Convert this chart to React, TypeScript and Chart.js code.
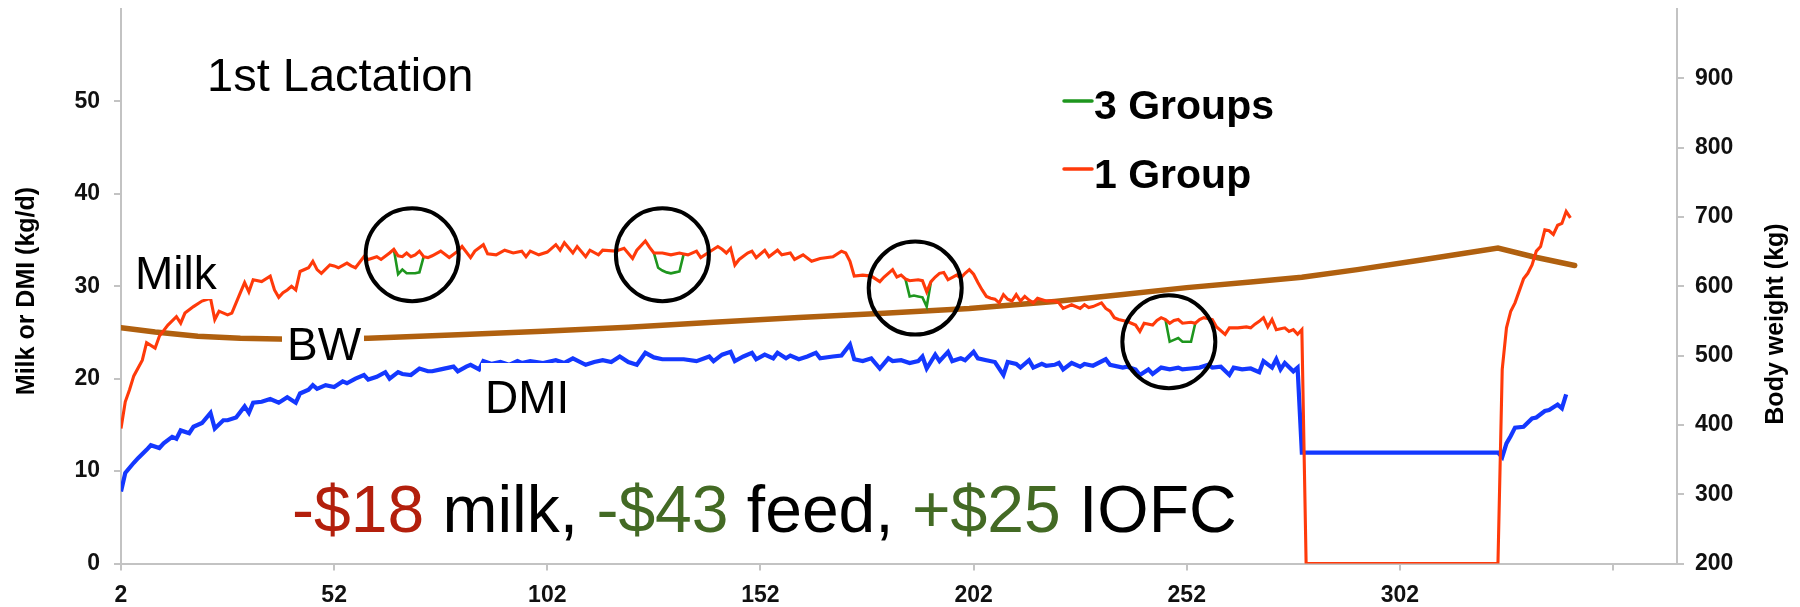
import React, { useEffect, useRef } from 'react';
import { Chart, registerables } from 'chart.js';

Chart.register(...registerables);

// ---------- axes ----------
const X_TICKS = [2, 52, 102, 152, 202, 252, 302, 352];
const X_TICK_LABELS = ['2', '52', '102', '152', '202', '252', '302', ''];
const LEFT_TICKS = [0, 10, 20, 30, 40, 50];
const RIGHT_TICKS = [200, 300, 400, 500, 600, 700, 800, 900];
const LEFT_TITLE = 'Milk or DMI (kg/d)';
const RIGHT_TITLE = 'Body weight (kg)';

// ---------- Milk, 1 Group (kg/d) ----------
const MILK_DAYS = [
  2, 3, 4, 5, 7, 8, 10, 11, 13, 15, 16, 17, 19, 21, 23, 24, 25, 27, 28, 30,
  31, 32, 33, 35, 37, 38, 39, 40, 41, 42, 43, 44, 46, 47, 48, 49, 51, 52, 53, 55,
  56, 57, 59, 60, 62, 63, 65, 66, 67, 68, 69, 70, 71, 72, 73, 74, 75, 77, 79, 81,
  82, 84, 85, 87, 88, 90, 92, 94, 96, 97, 98, 100, 102, 104, 105, 106, 108, 109, 111, 112,
  114, 115, 118, 120, 122, 123, 125, 126, 127, 129, 131, 133, 134, 135, 137, 138, 140, 142, 143, 144,
  145, 146, 147, 149, 150, 151, 153, 154, 156, 157, 159, 160, 162, 164, 166, 169, 171, 172, 173, 174,
  176, 178, 180, 181, 182, 183, 184, 185, 186, 187, 189, 190, 191, 192, 193, 194, 195, 196, 198, 199,
  200, 201, 202, 203, 204, 205, 206, 207, 208, 209, 210, 211, 212, 213, 214, 215, 216, 217, 219, 221,
  222, 223, 225, 227, 228, 229, 230, 232, 233, 234, 235, 236, 238, 239, 240, 241, 242, 244, 245, 246,
  247, 248, 249, 250, 251, 253, 254, 255, 256, 258, 259, 261, 262, 264, 266, 267, 268, 269, 270, 271,
  272, 273, 275, 276, 277, 278, 279, 280, 325, 326, 327, 328, 329, 330, 331, 332, 333, 334, 335, 336,
  337, 338, 339, 340, 341, 342,
];
const MILK_ONE_GROUP = [
  14.6, 17.5, 18.8, 20.3, 22.0, 23.9, 23.3, 24.6, 25.8, 26.7, 26.0, 27.1, 27.8, 28.4, 28.7, 26.4, 27.3, 26.9, 27.1, 29.3,
  30.4, 29.4, 30.7, 30.5, 31.1, 29.6, 28.8, 29.3, 29.6, 30.0, 29.6, 31.6, 32.0, 32.7, 31.8, 31.4, 32.3, 32.2, 32.0, 32.5,
  32.2, 32.0, 33.2, 32.9, 33.2, 32.9, 33.6, 34.0, 33.3, 33.2, 33.6, 33.2, 33.4, 33.8, 33.2, 33.1, 33.3, 33.8, 33.1, 33.8,
  34.3, 33.1, 33.8, 34.5, 33.5, 33.4, 33.9, 33.6, 33.8, 33.2, 33.8, 33.4, 33.7, 34.5, 33.9, 34.7, 33.6, 34.3, 33.2, 33.9,
  33.4, 33.9, 33.8, 34.1, 33.0, 33.9, 34.9, 34.2, 33.6, 33.6, 33.4, 33.6, 33.5, 33.4, 33.8, 33.1, 33.7, 34.3, 34.0, 33.6,
  34.1, 32.3, 32.9, 33.6, 33.8, 33.1, 33.9, 33.2, 33.9, 33.4, 33.6, 32.9, 33.4, 32.7, 33.0, 33.2, 33.8, 33.6, 32.7, 31.1,
  31.2, 31.1, 30.5, 31.0, 31.4, 31.8, 31.0, 31.2, 30.8, 30.6, 30.7, 30.6, 29.4, 30.5, 31.0, 31.4, 31.5, 30.7, 31.2, 30.9,
  31.4, 31.8, 31.3, 30.4, 29.6, 28.9, 28.7, 28.6, 28.2, 29.1, 28.6, 28.4, 29.1, 28.4, 28.9, 28.5, 28.2, 28.7, 28.4, 28.4,
  28.2, 27.6, 28.0, 27.6, 28.0, 27.7, 27.8, 28.2, 27.6, 27.3, 26.6, 26.4, 26.2, 26.0, 25.8, 25.1, 26.0, 25.8, 26.3, 26.6,
  26.4, 26.0, 26.3, 26.4, 26.0, 26.1, 26.0, 26.4, 26.6, 26.4, 25.6, 24.8, 25.5, 25.5, 25.6, 25.5, 25.9, 26.2, 26.6, 25.6,
  26.4, 25.3, 25.5, 25.1, 25.3, 24.8, 25.3, 0, 0, 21.0, 25.5, 27.3, 28.2, 29.5, 30.8, 31.4, 32.3, 33.8, 34.3, 36.1,
  36.0, 35.6, 36.6, 36.8, 38.1, 37.4,
];

// ---------- Milk, 3 Groups (only where it differs; null = gap) ----------
const MILK3_DAYS = [
  66, 67, 68, 69, 70, 71, 72, 73, 74,
  127, 128, 129, 130, 131, 132, 133, 134, 135,
  186, 187, 188, 189, 190, 191, 192, 193,
  247, 248, 249, 250, 251, 252, 253, 254,
];
const MILK_THREE_GROUPS = [
  34.0, 31.3, 31.8, 31.4, 31.4, 31.4, 31.5, 33.2, null,
  33.6, 32.0, 31.7, 31.5, 31.4, 31.5, 31.6, 33.5, null,
  30.8, 28.9, 29.0, 28.9, 28.8, 27.8, 30.5, null,
  26.4, 24.0, 24.2, 24.4, 24.0, 24.0, 24.0, 26.0,
];

// ---------- DMI (kg/d) ----------
const DMI_DAYS = [
  2, 3, 5, 6, 8, 9, 11, 12, 14, 15, 16, 18, 19, 21, 23, 24, 26, 27, 29, 31,
  32, 33, 35, 37, 39, 40, 41, 43, 44, 46, 47, 48, 50, 52, 54, 55, 57, 59, 60, 62,
  64, 65, 67, 68, 70, 72, 74, 75, 77, 80, 81, 83, 84, 86, 87, 89, 91, 93, 95, 96,
  98, 101, 104, 106, 108, 111, 113, 115, 117, 119, 121, 123, 125, 127, 129, 131, 134, 137, 140, 141,
  143, 145, 146, 148, 150, 151, 153, 155, 156, 158, 159, 161, 163, 165, 166, 169, 171, 173, 174, 176,
  178, 180, 182, 183, 185, 187, 189, 190, 191, 193, 194, 196, 197, 199, 200, 202, 203, 205, 207, 209,
  210, 212, 213, 215, 216, 218, 219, 221, 222, 223, 225, 227, 228, 230, 233, 234, 237, 238, 240, 241,
  243, 244, 246, 248, 250, 251, 253, 255, 257, 258, 260, 262, 263, 265, 267, 269, 270, 272, 273, 274,
  275, 277, 278, 279, 325, 326, 327, 328, 329, 331, 333, 334, 336, 337, 339, 340, 341,
];
const DMI_VALUES = [
  7.8, 9.8, 10.9, 11.4, 12.3, 12.8, 12.5, 13.0, 13.7, 13.5, 14.4, 14.1, 14.8, 15.2, 16.3, 14.6, 15.5, 15.5, 15.8, 17.0,
  16.3, 17.4, 17.5, 17.8, 17.4, 17.7, 18.0, 17.4, 18.4, 18.8, 19.3, 18.9, 19.3, 19.1, 19.7, 19.5, 20.0, 20.4, 19.9, 20.2,
  20.7, 20.0, 20.7, 20.5, 20.4, 21.1, 20.8, 20.8, 21.0, 21.3, 20.8, 21.3, 21.5, 21.0, 21.9, 21.6, 21.8, 21.5, 21.9, 21.7,
  21.9, 21.7, 22.0, 21.7, 22.2, 21.5, 21.8, 22.0, 21.8, 22.4, 21.8, 21.5, 22.8, 22.3, 22.1, 22.1, 22.1, 21.9, 22.4, 21.9,
  22.6, 22.9, 21.9, 22.4, 22.8, 22.1, 22.6, 22.2, 22.8, 22.2, 22.5, 22.1, 22.4, 22.8, 22.2, 22.4, 22.5, 23.7, 22.1, 21.9,
  22.2, 21.1, 22.2, 21.9, 22.0, 21.7, 21.9, 22.4, 21.1, 22.6, 21.9, 22.9, 21.9, 22.2, 22.0, 22.9, 22.2, 22.0, 21.8, 20.4,
  21.8, 21.6, 21.2, 22.0, 21.2, 21.6, 21.4, 21.5, 21.7, 21.0, 21.7, 21.3, 21.6, 21.4, 22.1, 21.5, 21.2, 21.3, 21.0, 20.4,
  21.0, 20.5, 21.2, 21.0, 21.2, 21.0, 21.1, 21.2, 21.5, 21.2, 21.3, 20.4, 21.2, 21.0, 21.1, 20.7, 21.9, 21.2, 22.1, 21.0,
  21.7, 20.8, 21.2, 12.0, 12.0, 11.5, 13.0, 13.8, 14.7, 14.8, 15.7, 15.8, 16.5, 16.6, 17.2, 16.8, 18.3,
];

// ---------- Body weight (kg) ----------
const BW_DAYS = [2, 10, 20, 30, 45, 60, 81, 101, 121, 141, 161, 181, 201, 221, 237, 252, 267, 279, 292, 307, 325, 333, 343];
const BW_VALUES = [540, 534, 528, 525, 523, 525, 530, 535, 541, 548, 555, 561, 568, 578, 588, 598, 606, 613, 624, 638, 655, 643, 630];

// ---------- highlighted regions (day, kg/d) ----------
const CIRCLE_DAYS = [70.3, 129.0, 188.3, 247.8];
const CIRCLE_VALUES = [33.4, 33.4, 29.8, 24.0];

const FONT = "'Liberation Sans', Arial, Helvetica, sans-serif";
const AXIS_COLOR = '#c3c3c3';
const RED = '#ff3a0a';
const GREEN = '#1e961e';
const BLUE = '#1438ff';
const BROWN = '#b0600f';
const DARK_RED = '#b31f0c';
const DARK_GREEN = '#436a24';

const overlayPlugin = {
  id: 'overlay',
  afterDraw(chart: any) {
    const ctx = chart.ctx as CanvasRenderingContext2D;
    const xs = chart.scales.x;
    const ys = chart.scales.y;
    ctx.save();

    // series labels on white patches
    const labels = [
      { text: 'Milk', x: 135, y: 289, box: [130, 245, 88, 54] },
      { text: 'BW', x: 287, y: 360, box: [282, 318, 82, 50] },
      { text: 'DMI', x: 485, y: 413, box: [481, 363, 88, 57] },
    ];
    ctx.textBaseline = 'alphabetic';
    ctx.textAlign = 'left';
    for (const l of labels) {
      ctx.fillStyle = '#ffffff';
      ctx.fillRect(l.box[0], l.box[1], l.box[2], l.box[3]);
      ctx.fillStyle = '#000000';
      ctx.font = `46px ${FONT}`;
      ctx.fillText(l.text, l.x, l.y);
    }

    // circles
    ctx.strokeStyle = '#000000';
    ctx.lineWidth = 4;
    CIRCLE_DAYS.forEach((d, i) => {
      const cx = xs.getPixelForValue(d);
      const cy = ys.getPixelForValue(CIRCLE_VALUES[i]);
      ctx.beginPath();
      ctx.arc(cx, cy, 46.5, 0, Math.PI * 2);
      ctx.stroke();
    });

    // title
    ctx.fillStyle = '#000000';
    ctx.font = `47px ${FONT}`;
    ctx.fillText('1st Lactation', 207, 91);

    // legend
    ctx.lineCap = 'round';
    ctx.lineWidth = 3.5;
    ctx.strokeStyle = GREEN;
    ctx.beginPath();
    ctx.moveTo(1064, 101);
    ctx.lineTo(1092, 101);
    ctx.stroke();
    ctx.strokeStyle = RED;
    ctx.beginPath();
    ctx.moveTo(1064, 169);
    ctx.lineTo(1092, 169);
    ctx.stroke();
    ctx.fillStyle = '#000000';
    ctx.font = `bold 41px ${FONT}`;
    ctx.fillText('3 Groups', 1094, 119);
    ctx.fillText('1 Group', 1094, 188);

    // economics line
    const parts: [string, string][] = [
      ['-$18', DARK_RED],
      [' milk, ', '#000000'],
      ['-$43', DARK_GREEN],
      [' feed, ', '#000000'],
      ['+$25', DARK_GREEN],
      [' IOFC', '#000000'],
    ];
    ctx.font = `66px ${FONT}`;
    let x = 292;
    for (const [t, c] of parts) {
      ctx.fillStyle = c;
      ctx.fillText(t, x, 532);
      x += ctx.measureText(t).width;
    }

    // axis titles (both read bottom-to-top)
    ctx.font = `bold 25px ${FONT}`;
    ctx.textAlign = 'center';
    ctx.textBaseline = 'middle';
    ctx.fillStyle = '#000000';
    ctx.save();
    ctx.translate(27, 291);
    ctx.rotate(-Math.PI / 2);
    ctx.fillText(LEFT_TITLE, 0, 0);
    ctx.restore();
    ctx.save();
    ctx.translate(1776, 324);
    ctx.rotate(-Math.PI / 2);
    ctx.fillText(RIGHT_TITLE, 0, 0);
    ctx.restore();

    ctx.restore();
  },
};

export default function App() {
  const canvasRef = useRef<HTMLCanvasElement | null>(null);

  useEffect(() => {
    if (!canvasRef.current) return;
    const tickFont = { family: FONT, size: 23, weight: 'bold' as const };
    const axisGrid = { display: true, drawOnChartArea: false, drawTicks: true, tickLength: 7, color: AXIS_COLOR, lineWidth: 2 };
    const axisBorder = { display: true, color: AXIS_COLOR, width: 2 };
    const chart = new Chart(canvasRef.current, {
      type: 'line',
      data: {
        datasets: [
          {
            label: '1 Group',
            data: MILK_DAYS.map((d, i) => ({ x: d, y: MILK_ONE_GROUP[i] })),
            borderColor: RED,
            borderWidth: 3.1,
            yAxisID: 'y',
            order: 0,
          },
          {
            label: '3 Groups',
            data: MILK3_DAYS.map((d, i) => ({ x: d, y: MILK_THREE_GROUPS[i] })),
            borderColor: GREEN,
            borderWidth: 2.6,
            spanGaps: false,
            yAxisID: 'y',
            order: 1,
          },
          {
            label: 'DMI',
            data: DMI_DAYS.map((d, i) => ({ x: d, y: DMI_VALUES[i] })),
            borderColor: BLUE,
            borderWidth: 4.2,
            yAxisID: 'y',
            order: 2,
          },
          {
            label: 'BW',
            data: BW_DAYS.map((d, i) => ({ x: d, y: BW_VALUES[i] })),
            borderColor: BROWN,
            borderWidth: 5.5,
            borderCapStyle: 'round',
            yAxisID: 'y2',
            order: 3,
          },
        ] as any,
      },
      options: {
        animation: false,
        responsive: false,
        devicePixelRatio: 1,
        layout: { padding: { top: 9, left: 0, right: 0, bottom: 0 } },
        elements: { point: { radius: 0 }, line: { tension: 0, fill: false } },
        plugins: { legend: { display: false }, tooltip: { enabled: false } },
        scales: {
          x: {
            type: 'linear',
            min: 2,
            max: 367,
            afterBuildTicks: (s: any) => {
              s.ticks = X_TICKS.map((v) => ({ value: v }));
            },
            afterFit: (s: any) => {
              s.height = 43.5;
              s.paddingLeft = 0;
              s.paddingRight = 0;
            },
            ticks: {
              autoSkip: false,
              maxRotation: 0,
              font: tickFont,
              color: '#111111',
              padding: 11,
              callback: (_v: any, i: number) => X_TICK_LABELS[i],
            },
            grid: axisGrid,
            border: axisBorder,
          },
          y: {
            type: 'linear',
            position: 'left',
            min: 0,
            max: 60,
            afterBuildTicks: (s: any) => {
              s.ticks = LEFT_TICKS.map((v) => ({ value: v }));
            },
            afterFit: (s: any) => {
              s.width = 121;
              s.paddingTop = 0;
              s.paddingBottom = 0;
            },
            ticks: { font: tickFont, color: '#111111', padding: 14 },
            grid: axisGrid,
            border: axisBorder,
          },
          y2: {
            type: 'linear',
            position: 'right',
            min: 200,
            max: 1000,
            afterBuildTicks: (s: any) => {
              s.ticks = RIGHT_TICKS.map((v) => ({ value: v }));
            },
            afterFit: (s: any) => {
              s.width = 123;
              s.paddingTop = 0;
              s.paddingBottom = 0;
            },
            ticks: { font: tickFont, color: '#111111', padding: 11 },
            grid: axisGrid,
            border: axisBorder,
          },
        },
      } as any,
      plugins: [overlayPlugin],
    });
    return () => chart.destroy();
  }, []);

  return (
    <div style={{ position: 'absolute', left: 0, top: 0, width: 1800, height: 607, background: '#ffffff' }}>
      <canvas ref={canvasRef} width={1800} height={607} style={{ width: 1800, height: 607, display: 'block' }} />
    </div>
  );
}
